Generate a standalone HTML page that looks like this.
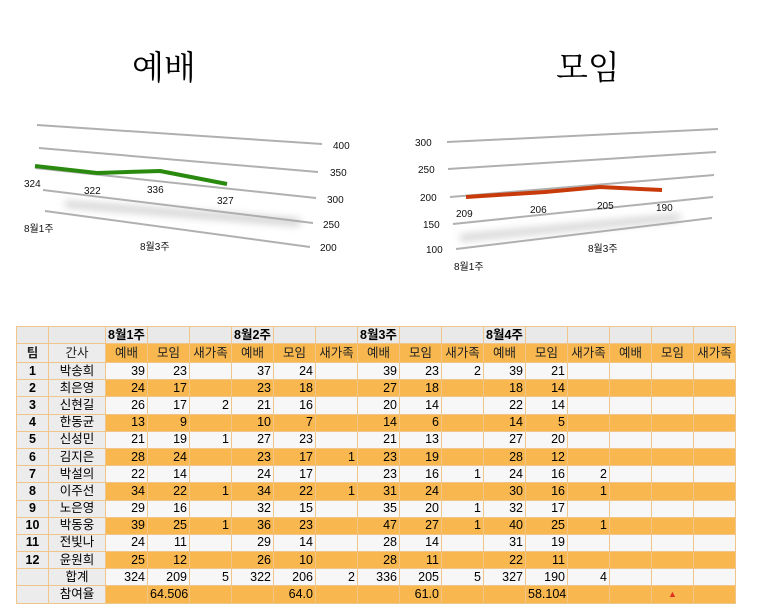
<!DOCTYPE html>
<html><head><meta charset="utf-8"><style>
body{margin:0;width:759px;height:616px;background:#fff;position:relative;overflow:hidden;font-family:"Liberation Sans","Noto Sans CJK KR",sans-serif;}
.t{position:absolute;font-family:"Liberation Serif","Noto Serif CJK SC","Noto Sans CJK KR",serif;font-size:33px;color:#000;}
table{position:absolute;left:16px;top:326px;width:720px;border-collapse:collapse;table-layout:fixed;font-size:12.5px;}
td{border:1px solid #f0c58a;padding:0 2px;height:16.2px;line-height:15px;text-align:right;overflow:hidden;white-space:nowrap;}
tr.h1 td{background:#e9e9e9;height:16px;text-align:left;font-weight:bold;}
tr.h2 td{background:#f9b84f;height:18px;text-align:center;color:#222;}
tr.h2 td.g{background:#ececec;}
tr.w td{background:#f7f7f7;}
tr.o td{background:#f9b84f;}
td.n{background:#ececec !important;text-align:center;font-weight:bold;}
td.m{background:#ececec !important;text-align:center;}
</style></head><body>
<div class="t" style="left:132px;top:42px;">예배</div>
<div class="t" style="left:556px;top:42px;">모임</div>
<svg width="759" height="300" style="position:absolute;left:0;top:0" font-family="Liberation Sans, Noto Sans CJK KR, sans-serif" font-size="10">
<defs><filter id="b" x="-20%" y="-200%" width="140%" height="500%"><feGaussianBlur stdDeviation="4"/></filter></defs>
<g stroke="#b0b0b0" stroke-width="2" fill="none">
<line x1="37" y1="125" x2="322" y2="144"/><line x1="39" y1="148" x2="318" y2="172"/><line x1="35" y1="168" x2="316" y2="198"/><line x1="43" y1="190" x2="313" y2="223"/><line x1="45" y1="211" x2="310" y2="247"/>
<line x1="447" y1="142" x2="718" y2="129"/><line x1="448" y1="169" x2="716" y2="152"/><line x1="450" y1="197" x2="714" y2="175"/><line x1="453" y1="224" x2="713" y2="197"/><line x1="456" y1="249" x2="712" y2="218"/>
</g>
<polygon points="65,201 300,219 300,226 65,207" fill="#aaa" filter="url(#b)" opacity="0.6"/>
<polygon points="460,235 680,214 680,220 460,241" fill="#aaa" filter="url(#b)" opacity="0.6"/>
<polyline points="35,166 97,173 160,171 227,184" fill="none" stroke="#2a8a10" stroke-width="4" stroke-linejoin="round"/>
<polyline points="466,197 545,192 600,187 662,190" fill="none" stroke="#c83a0a" stroke-width="4" stroke-linejoin="round"/>
<g fill="#111">
<text x="333" y="149">400</text><text x="330" y="176">350</text><text x="327" y="203">300</text><text x="323" y="228">250</text><text x="320" y="251">200</text>
<text x="24" y="187">324</text><text x="84" y="194">322</text><text x="147" y="193">336</text><text x="217" y="204">327</text>
<text x="24" y="232">8월1주</text><text x="140" y="250">8월3주</text>
<text x="415" y="146">300</text><text x="418" y="173">250</text><text x="420" y="201">200</text><text x="423" y="228">150</text><text x="426" y="253">100</text>
<text x="456" y="217">209</text><text x="530" y="213">206</text><text x="597" y="209">205</text><text x="656" y="211">190</text>
<text x="454" y="270">8월1주</text><text x="588" y="252">8월3주</text>
</g>
</svg>
<table>
<colgroup><col style="width:32px"><col style="width:57px"><col span="15" style="width:42px"></colgroup>
<tr class="h1"><td></td><td></td><td>8월1주</td><td></td><td></td><td>8월2주</td><td></td><td></td><td>8월3주</td><td></td><td></td><td>8월4주</td><td></td><td></td><td></td><td></td><td></td></tr>
<tr class="h2"><td class="g" style="font-weight:bold">팀</td><td class="g">간사</td><td>예배</td><td>모임</td><td>새가족</td><td>예배</td><td>모임</td><td>새가족</td><td>예배</td><td>모임</td><td>새가족</td><td>예배</td><td>모임</td><td>새가족</td><td>예배</td><td>모임</td><td>새가족</td></tr>
<tr class="w"><td class="n">1</td><td class="m">박송희</td><td>39</td><td>23</td><td></td><td>37</td><td>24</td><td></td><td>39</td><td>23</td><td>2</td><td>39</td><td>21</td><td></td><td></td><td></td><td></td></tr>
<tr class="o"><td class="n">2</td><td class="m">최은영</td><td>24</td><td>17</td><td></td><td>23</td><td>18</td><td></td><td>27</td><td>18</td><td></td><td>18</td><td>14</td><td></td><td></td><td></td><td></td></tr>
<tr class="w"><td class="n">3</td><td class="m">신현길</td><td>26</td><td>17</td><td>2</td><td>21</td><td>16</td><td></td><td>20</td><td>14</td><td></td><td>22</td><td>14</td><td></td><td></td><td></td><td></td></tr>
<tr class="o"><td class="n">4</td><td class="m">한동균</td><td>13</td><td>9</td><td></td><td>10</td><td>7</td><td></td><td>14</td><td>6</td><td></td><td>14</td><td>5</td><td></td><td></td><td></td><td></td></tr>
<tr class="w"><td class="n">5</td><td class="m">신성민</td><td>21</td><td>19</td><td>1</td><td>27</td><td>23</td><td></td><td>21</td><td>13</td><td></td><td>27</td><td>20</td><td></td><td></td><td></td><td></td></tr>
<tr class="o"><td class="n">6</td><td class="m">김지은</td><td>28</td><td>24</td><td></td><td>23</td><td>17</td><td>1</td><td>23</td><td>19</td><td></td><td>28</td><td>12</td><td></td><td></td><td></td><td></td></tr>
<tr class="w"><td class="n">7</td><td class="m">박설의</td><td>22</td><td>14</td><td></td><td>24</td><td>17</td><td></td><td>23</td><td>16</td><td>1</td><td>24</td><td>16</td><td>2</td><td></td><td></td><td></td></tr>
<tr class="o"><td class="n">8</td><td class="m">이주선</td><td>34</td><td>22</td><td>1</td><td>34</td><td>22</td><td>1</td><td>31</td><td>24</td><td></td><td>30</td><td>16</td><td>1</td><td></td><td></td><td></td></tr>
<tr class="w"><td class="n">9</td><td class="m">노은영</td><td>29</td><td>16</td><td></td><td>32</td><td>15</td><td></td><td>35</td><td>20</td><td>1</td><td>32</td><td>17</td><td></td><td></td><td></td><td></td></tr>
<tr class="o"><td class="n">10</td><td class="m">박동웅</td><td>39</td><td>25</td><td>1</td><td>36</td><td>23</td><td></td><td>47</td><td>27</td><td>1</td><td>40</td><td>25</td><td>1</td><td></td><td></td><td></td></tr>
<tr class="w"><td class="n">11</td><td class="m">전빛나</td><td>24</td><td>11</td><td></td><td>29</td><td>14</td><td></td><td>28</td><td>14</td><td></td><td>31</td><td>19</td><td></td><td></td><td></td><td></td></tr>
<tr class="o"><td class="n">12</td><td class="m">윤원희</td><td>25</td><td>12</td><td></td><td>26</td><td>10</td><td></td><td>28</td><td>11</td><td></td><td>22</td><td>11</td><td></td><td></td><td></td><td></td></tr>
<tr class="w"><td class="n"></td><td class="m" style="font-weight:normal">합계</td><td>324</td><td>209</td><td>5</td><td>322</td><td>206</td><td>2</td><td>336</td><td>205</td><td>5</td><td>327</td><td>190</td><td>4</td><td></td><td></td><td></td></tr>
<tr class="o"><td class="n"></td><td class="m" style="font-weight:normal">참여율</td><td></td><td>64.506</td><td></td><td></td><td>64.0</td><td></td><td></td><td>61.0</td><td></td><td></td><td>58.104</td><td></td><td></td><td style="text-align:center;color:#e03020;font-size:9px">▲</td><td></td></tr>
</table>
</body></html>
